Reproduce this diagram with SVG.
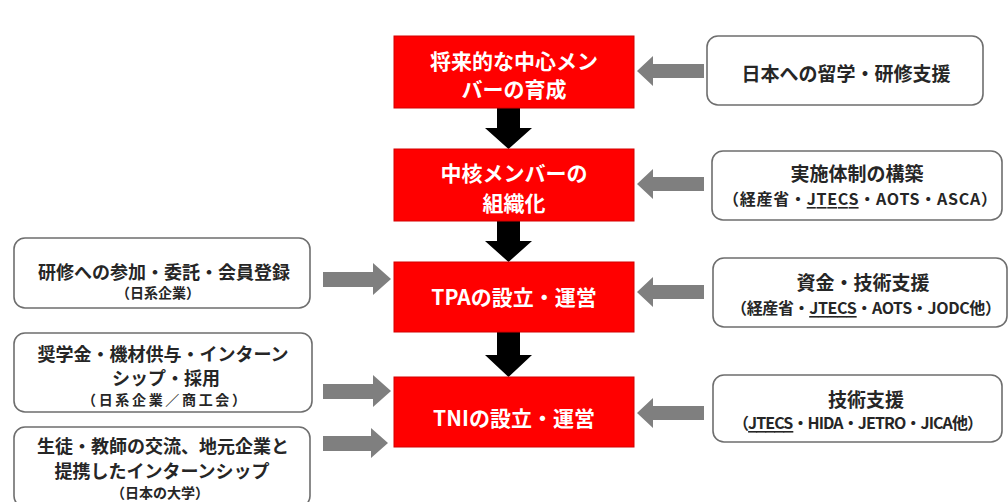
<svg xmlns="http://www.w3.org/2000/svg" width="1008" height="502" viewBox="0 0 1008 502">
<style>
.red{fill:#ff0000;stroke:#d40000;stroke-width:1}
.box{fill:#ffffff;stroke:#6e6e6e;stroke-width:1.6}
.rt{font-family:"Noto Sans CJK JP","Noto Sans",sans-serif;font-weight:700;font-size:21px;fill:#ffffff;text-anchor:middle;dominant-baseline:central}
.mt{font-family:"Noto Sans CJK JP","Noto Sans",sans-serif;font-weight:700;font-size:19px;fill:#262626;text-anchor:middle;dominant-baseline:central}
.st{font-family:"Noto Sans CJK JP","Noto Sans",sans-serif;font-weight:700;font-size:16px;fill:#262626;text-anchor:middle;dominant-baseline:central}
.lt{font-family:"Noto Sans CJK JP","Noto Sans",sans-serif;font-weight:700;font-size:18px;fill:#262626;text-anchor:middle;dominant-baseline:central}
.ls{font-family:"Noto Sans CJK JP","Noto Sans",sans-serif;font-weight:700;font-size:14px;fill:#262626;text-anchor:middle;dominant-baseline:central}
.blk{fill:#000000}
.gry{fill:#7f7f7f}
</style>
<rect width="1008" height="502" fill="#ffffff"/>
<g id="connectors">
  <polygon class="blk" points="497,108 520,108 520,128 532,128 508.5,149 485,128 497,128"/>
  <polygon class="blk" points="497,221 520,221 520,241 532,241 508.5,262 485,241 497,241"/>
  <polygon class="blk" points="497,332 520,332 520,355 532,355 508.5,377 485,355 497,355"/>
  <polygon class="gry" points="704,64 653,64 653,56 637,71 653,86 653,78 704,78"/>
  <polygon class="gry" points="704,177 653,177 653,169 637,184 653,199 653,191 704,191"/>
  <polygon class="gry" points="704,285 653,285 653,277 637,292 653,307 653,299 704,299"/>
  <polygon class="gry" points="704,406 653,406 653,398 637,413 653,428 653,420 704,420"/>
  <polygon class="gry" points="323,272 373,272 373,263 391,279 373,295 373,287 323,287"/>
  <polygon class="gry" points="323,384 373,384 373,375 391,391 373,407 373,399 323,399"/>
  <polygon class="gry" points="323,436 371,436 371,428 388,443 371,458 371,451 323,451"/>
</g>
<g id="n1">
  <rect class="red" x="394" y="36" width="240" height="72"/>
  <text class="rt" x="514" y="60">将来的な中心メン</text>
  <text class="rt" x="514" y="88">バーの育成</text>
</g>
<g id="n2">
  <rect class="red" x="394" y="149" width="240" height="72"/>
  <text class="rt" x="514" y="172">中核メンバーの</text>
  <text class="rt" x="514" y="202">組織化</text>
</g>
<g id="n3">
  <rect class="red" x="394" y="262" width="240" height="70"/>
  <text class="rt" x="514" y="296">TPAの設立・運営</text>
</g>
<g id="n4">
  <rect class="red" x="394" y="377" width="240" height="70"/>
  <text class="rt" x="514" y="417">TNIの設立・運営</text>
</g>
<g id="r1">
  <rect class="box" x="707" y="36" width="276" height="69" rx="11"/>
  <text class="mt" x="846" y="72">日本への留学・研修支援</text>
</g>
<g id="r2">
  <rect class="box" x="712" y="151" width="290" height="69" rx="11"/>
  <text class="mt" x="857" y="172">実施体制の構築</text>
  <text class="st" x="860" y="198" textLength="274" lengthAdjust="spacing">（経産省・<tspan text-decoration="underline">JTECS</tspan>・AOTS・ASCA）</text>
</g>
<g id="r3">
  <rect class="box" x="713" y="258" width="294" height="69" rx="11"/>
  <text class="mt" x="863" y="281">資金・技術支援</text>
  <text class="st" x="866" y="307" textLength="270" lengthAdjust="spacing">（経産省・<tspan text-decoration="underline">JTECS</tspan>・AOTS・JODC他）</text>
</g>
<g id="r4">
  <rect class="box" x="713" y="375" width="289" height="67" rx="11"/>
  <text class="mt" x="866" y="398">技術支援</text>
  <text class="st" x="858" y="422" textLength="250" lengthAdjust="spacing">（<tspan text-decoration="underline">JTECS</tspan>・HIDA・JETRO・JICA他）</text>
</g>
<g id="l1">
  <rect class="box" x="14" y="238" width="296" height="70" rx="11"/>
  <text class="lt" x="164" y="271">研修への参加・委託・会員登録</text>
  <text class="ls" x="158" y="292">（日系企業）</text>
</g>
<g id="l2">
  <rect class="box" x="14" y="333" width="298" height="79" rx="11"/>
  <text class="lt" x="163" y="353">奨学金・機材供与・インターン</text>
  <text class="lt" x="166" y="377">シップ・採用</text>
  <text class="ls" x="164" y="399" textLength="164" lengthAdjust="spacing">（日系企業／商工会）</text>
</g>
<g id="l3">
  <rect class="box" x="14" y="427" width="296" height="80" rx="11"/>
  <text class="lt" x="163" y="445">生徒・教師の交流、地元企業と</text>
  <text class="lt" x="162" y="470">提携したインターンシップ</text>
  <text class="ls" x="160" y="492">（日本の大学）</text>
</g>
</svg>
